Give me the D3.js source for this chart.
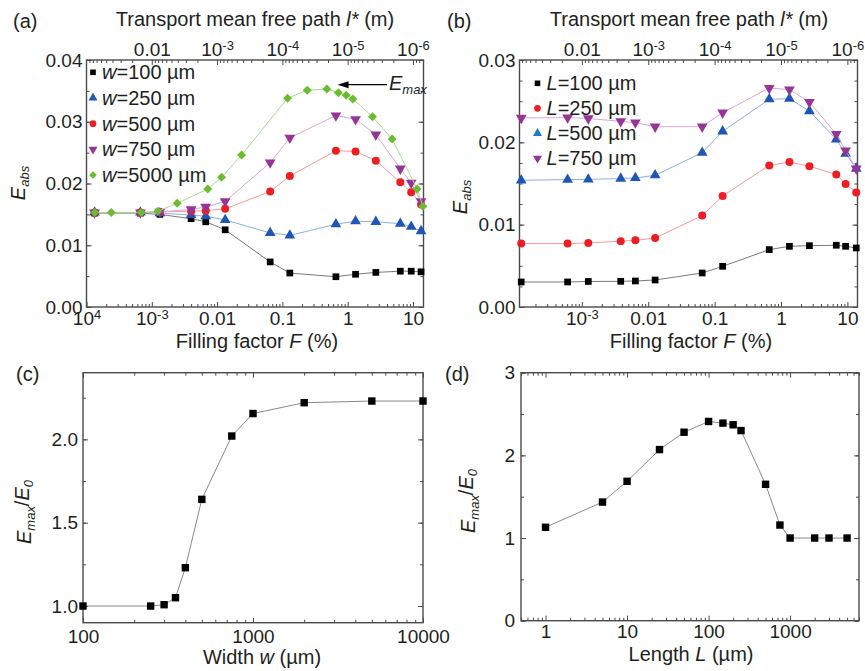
<!DOCTYPE html>
<html>
<head>
<meta charset="utf-8">
<script src="https://cdn.jsdelivr.net/npm/d3@7"></script>
<style>
body { margin: 0; background: #fff; }
text { font-family: "Liberation Sans", Arial, sans-serif; fill: #231f20; }
</style>
</head>
<body>
<div id="chart"></div>
<script>
// ---- panel (a): E_abs vs filling factor, different widths w
var aF = [1.33e-4, 6.7e-4, 1.33e-3, 4e-3, 6.7e-3, 0.0133, 0.065, 0.13, 0.66, 1.32, 2.7, 6.4, 9.4, 13.3];
var aW100 = [0.0152, 0.0152, 0.0150, 0.0143, 0.0138, 0.0125, 0.0073, 0.0055, 0.0049, 0.0053, 0.0056, 0.0058, 0.0058, 0.0057];
var aW250 = [0.0153, 0.0153, 0.0152, 0.0149, 0.0147, 0.0141, 0.0120, 0.0116, 0.0134, 0.0139, 0.0138, 0.0135, 0.0130, 0.0123];
var aW500 = [0.0153, 0.0153, 0.0154, 0.0155, 0.0156, 0.0159, 0.0187, 0.0212, 0.0253, 0.0252, 0.0237, 0.0202, 0.0186, 0.0166];
var aW750 = [0.0153, 0.0153, 0.0154, 0.0158, 0.0162, 0.0171, 0.0234, 0.0274, 0.0310, 0.0304, 0.0279, 0.0224, 0.0201, 0.0171];
var aF5000 = [1.34e-4, 2.4e-4, 6.9e-4, 1.24e-3, 2.45e-3, 7.2e-3, 0.0117, 0.0237, 0.12, 0.24, 0.48, 0.72, 0.95, 1.2, 2.4, 4.8, 11.6, 14.2];
var aW5000 = [0.0153, 0.0153, 0.0153, 0.0155, 0.0168, 0.0191, 0.0210, 0.0246, 0.0338, 0.0351, 0.0353, 0.0347, 0.0343, 0.0337, 0.0308, 0.0272, 0.0191, 0.0163];
var aLegend = ["=100 µm", "=250 µm", "=500 µm", "=750 µm", "=5000 µm"];

// ---- panel (b): E_abs vs filling factor, different lengths L
var bF = [1.22e-4, 6.1e-4, 1.25e-3, 3.85e-3, 6.4e-3, 0.0127, 0.065, 0.132, 0.665, 1.34, 2.68, 6.8, 9.4, 13.6];
var bL100 = [0.00304, 0.00304, 0.0031, 0.00312, 0.00316, 0.00328, 0.00413, 0.00494, 0.00697, 0.00737, 0.00745, 0.0075, 0.00737, 0.00717];
var bL250 = [0.0077, 0.0077, 0.00778, 0.0080, 0.0081, 0.00838, 0.0111, 0.01349, 0.0172, 0.0176, 0.0171, 0.0161, 0.01494, 0.0139];
var bL500 = [0.01539, 0.01547, 0.0155, 0.0156, 0.01567, 0.0160, 0.01875, 0.02134, 0.02523, 0.0253, 0.0238, 0.02037, 0.01863, 0.0168];
var bL750 = [0.02296, 0.0230, 0.0229, 0.02255, 0.0224, 0.0219, 0.0219, 0.0236, 0.0266, 0.0264, 0.0249, 0.0210, 0.0190, 0.0168];
var bLegend = ["=100 µm", "=250 µm", "=500 µm", "=750 µm"];

// ---- panel (c): Emax/E0 vs width
var cW = [100, 250, 300, 350, 400, 500, 750, 1000, 2000, 5000, 10000];
var cR = [1.0, 1.0, 1.008, 1.05, 1.23, 1.64, 2.02, 2.155, 2.22, 2.23, 2.23];

// ---- panel (d): Emax/E0 vs length
var dL = [1, 5, 10, 25, 50, 100, 150, 200, 250, 500, 750, 1000, 2000, 3000, 5000];
var dR = [1.13, 1.435, 1.686, 2.07, 2.28, 2.41, 2.39, 2.37, 2.30, 1.65, 1.157, 1.0, 1.0, 1.0, 1.0];

// tick values
var fMajors = [1e-4, 1e-3, 0.01, 0.1, 1, 10];
var lMajors = [0.01, 1e-3, 1e-4, 1e-5, 1e-6];

var width = 865, height = 671;
var svg = d3.select("#chart").append("svg")
    .attr("width", width)
    .attr("height", height);

var frameColor = "#4a4a4a";

function logMinors(lo, hi) {
    var a = Math.min(lo, hi), b = Math.max(lo, hi), out = [];
    for (var e = Math.floor(Math.log10(a)); e <= Math.ceil(Math.log10(b)); e++) {
        for (var m = 2; m < 10; m++) {
            var v = m * Math.pow(10, e);
            if (v >= a * 0.999 && v <= b * 1.001) out.push(v);
        }
    }
    return out;
}

function linTicks(lo, hi, step) {
    var out = [];
    for (var i = Math.round(lo / step); i * step <= hi + 1e-9; i++) out.push(+(i * step).toFixed(6));
    return out;
}

// labels with optional superscript: fmt returns string or [base, sup]
function writeLabels(axisG, fmt) {
    axisG.selectAll(".tick text").each(function(d) {
        var t = d3.select(this), f = fmt(d);
        if (typeof f === "string") { t.text(f); return; }
        t.text(f[0]);
        t.append("tspan").attr("dy", "-0.5em").attr("font-size", "13px").text(f[1]);
    });
}

function styleAxis(axisG) {
    axisG.select(".domain").remove();
    axisG.selectAll(".tick line").attr("stroke", frameColor).attr("stroke-width", 1);
    axisG.selectAll(".tick text").attr("font-size", "19px").attr("font-family", null).attr("fill", "#231f20");
}

function fLabel(d) {
    if (d < 9e-4) return ["10", "4"];
    if (d < 5e-3) return ["10", "-3"];
    return String(+d.toPrecision(1));
}

function lLabel(d) {
    if (d > 5e-3) return "0.01";
    return ["10", "-" + Math.round(-Math.log10(d))];
}

function panel(o) {
    var g = svg.append("g").attr("transform", "translate(" + o.left + "," + o.top + ")");
    var w = o.width, h = o.height;
    var x = d3.scaleLog().domain(o.xDomain).range([0, w]);
    var y = d3.scaleLinear().domain(o.yDomain).range([h, 0]);

    // bottom
    var bMaj = o.xMajors.filter(function(v) { return v >= o.xDomain[0] * 0.999 && v <= o.xDomain[1]; });
    var gb = g.append("g").attr("transform", "translate(0," + h + ")")
        .call(d3.axisBottom(x).tickValues(bMaj).tickSize(-5).tickPadding(o.xPad));
    styleAxis(gb);
    writeLabels(gb, o.xFormat);
    var gbm = g.append("g").attr("transform", "translate(0," + h + ")")
        .call(d3.axisBottom(x).tickValues(logMinors(o.xDomain[0], o.xDomain[1])).tickSize(-3).tickFormat(""));
    styleAxis(gbm);

    // top
    if (o.topAxis) {
        var lx = d3.scaleLog().domain([1e-5 / o.xDomain[0], 1e-5 / o.xDomain[1]]).range([0, w]);
        var gt = g.append("g")
            .call(d3.axisTop(lx).tickValues(lMajors).tickSize(-5).tickPadding(4));
        styleAxis(gt);
        writeLabels(gt, lLabel);
        var gtm = g.append("g")
            .call(d3.axisTop(lx).tickValues(logMinors(1e-5 / o.xDomain[0], 1e-5 / o.xDomain[1])).tickSize(-3).tickFormat(""));
        styleAxis(gtm);
    } else {
        styleAxis(g.append("g").call(d3.axisTop(x).tickValues(bMaj).tickSize(-5).tickFormat("")));
        styleAxis(g.append("g").call(d3.axisTop(x).tickValues(logMinors(o.xDomain[0], o.xDomain[1])).tickSize(-3).tickFormat("")));
    }

    // left + right
    var gl = g.append("g")
        .call(d3.axisLeft(y).tickValues(o.yMajors).tickSize(-5).tickPadding(o.yPad).tickFormat(d3.format(o.yFormat)));
    styleAxis(gl);
    styleAxis(g.append("g").call(d3.axisLeft(y).tickValues(o.yMinors).tickSize(-3).tickFormat("")));
    styleAxis(g.append("g").attr("transform", "translate(" + w + ",0)")
        .call(d3.axisRight(y).tickValues(o.yMajors).tickSize(-5).tickFormat("")));
    styleAxis(g.append("g").attr("transform", "translate(" + w + ",0)")
        .call(d3.axisRight(y).tickValues(o.yMinors).tickSize(-3).tickFormat("")));

    g.append("rect")
        .attr("width", w).attr("height", h)
        .attr("fill", "none")
        .attr("stroke", frameColor)
        .attr("stroke-width", 1.4);

    return { g: g, x: x, y: y, w: w, h: h };
}

function series(p, xs, ys, color, lineColor, sym, size, rot) {
    var pts = xs.map(function(d, i) { return [d, ys[i]]; });
    p.g.append("path")
        .datum(pts)
        .attr("fill", "none")
        .attr("stroke", lineColor)
        .attr("stroke-width", 1)
        .attr("d", d3.line().x(function(d) { return p.x(d[0]); }).y(function(d) { return p.y(d[1]); }));
    p.g.selectAll(null)
        .data(pts)
        .enter()
        .append("path")
        .attr("transform", function(d) {
            return "translate(" + p.x(d[0]) + "," + p.y(d[1]) + ") rotate(" + (rot || 0) + ")";
        })
        .attr("d", d3.symbol().type(sym).size(size))
        .attr("fill", color);
}

function legend(p, x0, y0, dy, items, letter) {
    items.forEach(function(it, i) {
        var cy = y0 + i * dy;
        p.g.append("path")
            .attr("transform", "translate(" + x0 + "," + cy + ") rotate(" + (it.rot || 0) + ")")
            .attr("d", d3.symbol().type(it.sym).size(it.size * 0.7))
            .attr("fill", it.color);
        var t = p.g.append("text").attr("x", x0 + 9).attr("y", cy + 7).attr("font-size", "20px");
        t.append("tspan").attr("font-style", "italic").text(letter);
        t.append("tspan").text(it.label);
    });
}

function textWithSub(parent, parts, attrs) {
    var t = parent.append("text");
    Object.keys(attrs).forEach(function(k) { t.attr(k, attrs[k]); });
    parts.forEach(function(pt) {
        var s = t.append("tspan").text(pt.t);
        if (pt.i) s.attr("font-style", "italic");
        if (pt.sub) s.attr("font-size", "13px").attr("dy", "0.3em");
        if (pt.back) s.attr("dy", "-0.3em");
    });
    return t;
}

var cols = {
    black: ["#000000", "#7a7a7a"],
    blue: ["#1f55b5", "#8db0e3"],
    red: ["#ee1d23", "#f59a9a"],
    purple: ["#963596", "#d9a8d9"],
    green: ["#6abd2e", "#a9da8e"]
};

// ================= (a)
var pa = panel({
    left: 86.5, top: 60, width: 337, height: 247,
    xDomain: [1e-4, 14.5], yDomain: [0, 0.04],
    xMajors: fMajors, xFormat: fLabel, xPad: 5, topAxis: true,
    yMajors: linTicks(0, 0.04, 0.01), yMinors: linTicks(0, 0.04, 0.005), yFormat: ".2f", yPad: 4
});
series(pa, aF, aW100, cols.black[0], cols.black[1], d3.symbolSquare, 45, 0);
series(pa, aF, aW250, cols.blue[0], cols.blue[1], d3.symbolTriangle, 50, 0);
series(pa, aF, aW500, cols.red[0], cols.red[1], d3.symbolCircle, 50, 0);
series(pa, aF, aW750, cols.purple[0], cols.purple[1], d3.symbolTriangle, 50, 180);
series(pa, aF5000, aW5000, cols.green[0], cols.green[1], d3.symbolSquare, 40, 45);
legend(pa, 6.5, 12.3, 25.7, [
    { sym: d3.symbolSquare, size: 45, color: cols.black[0], label: aLegend[0] },
    { sym: d3.symbolTriangle, size: 50, color: cols.blue[0], label: aLegend[1] },
    { sym: d3.symbolCircle, size: 50, color: cols.red[0], label: aLegend[2] },
    { sym: d3.symbolTriangle, size: 50, color: cols.purple[0], label: aLegend[3], rot: 180 },
    { sym: d3.symbolSquare, size: 40, color: cols.green[0], label: aLegend[4], rot: 45 }
], "w");

// Emax annotation
var tipX = pa.x(0.7), tipY = pa.y(0.0360), tailX = pa.x(4);
pa.g.append("line")
    .attr("x1", tailX).attr("y1", tipY).attr("x2", tipX + 8).attr("y2", tipY)
    .attr("stroke", "#000").attr("stroke-width", 1.3);
pa.g.append("path")
    .attr("d", "M" + tipX + "," + tipY + "L" + (tipX + 11) + "," + (tipY - 3.5) + "L" + (tipX + 11) + "," + (tipY + 3.5) + "Z")
    .attr("fill", "#000");
textWithSub(pa.g, [{ t: "E", i: true }, { t: "max", i: true, sub: true }],
    { x: tailX + 2, y: tipY + 5, "font-size": "20px" });

// ================= (b)
var pb = panel({
    left: 519.5, top: 60, width: 338, height: 247,
    xDomain: [1.15e-4, 14.2], yDomain: [0, 0.03],
    xMajors: fMajors, xFormat: fLabel, xPad: 5, topAxis: true,
    yMajors: linTicks(0, 0.03, 0.01), yMinors: linTicks(0, 0.03, 0.0025), yFormat: ".2f", yPad: 4
});
series(pb, bF, bL100, cols.black[0], cols.black[1], d3.symbolSquare, 45, 0);
series(pb, bF, bL250, cols.red[0], cols.red[1], d3.symbolCircle, 50, 0);
series(pb, bF, bL500, cols.blue[0], cols.blue[1], d3.symbolTriangle, 50, 0);
series(pb, bF, bL750, cols.purple[0], cols.purple[1], d3.symbolTriangle, 50, 180);
legend(pb, 18, 23.3, 25, [
    { sym: d3.symbolSquare, size: 45, color: cols.black[0], label: bLegend[0] },
    { sym: d3.symbolCircle, size: 50, color: cols.red[0], label: bLegend[1] },
    { sym: d3.symbolTriangle, size: 50, color: "#1e78c8", label: bLegend[2] },
    { sym: d3.symbolTriangle, size: 50, color: cols.purple[0], label: bLegend[3], rot: 180 }
], "L");

// ================= (c)
var pc = panel({
    left: 83, top: 372.7, width: 340, height: 250,
    xDomain: [100, 10000], yDomain: [0.9, 2.4],
    xMajors: [100, 1000, 10000], xFormat: function(d) { return String(d); }, xPad: 7, topAxis: false,
    yMajors: [1.0, 1.5, 2.0], yMinors: linTicks(1.0, 2.4, 0.25), yFormat: ".1f", yPad: 5
});
series(pc, cW, cR, "#000", "#8a8a8a", d3.symbolSquare, 55, 0);

// ================= (d)
var pd = panel({
    left: 521, top: 372.7, width: 338, height: 248,
    xDomain: [0.5, 7000], yDomain: [0, 3],
    xMajors: [1, 10, 100, 1000], xFormat: function(d) { return String(d); }, xPad: 4, topAxis: false,
    yMajors: [0, 1, 2, 3], yMinors: linTicks(0, 3, 0.5), yFormat: "d", yPad: 6
});
series(pd, dL, dR, "#000", "#8a8a8a", d3.symbolSquare, 55, 0);

// ================= titles
[["(a)", 13, 28], ["(b)", 447, 28], ["(c)", 16, 381], ["(d)", 445, 381]].forEach(function(l) {
    svg.append("text").attr("x", l[1]).attr("y", l[2]).attr("font-size", "20px").text(l[0]);
});

[255, 689].forEach(function(cx) {
    textWithSub(svg, [{ t: "Transport mean free path " }, { t: "l*", i: true }, { t: " (m)" }],
        { x: cx, y: 26, "text-anchor": "middle", "font-size": "20px" });
    textWithSub(svg, [{ t: "Filling factor " }, { t: "F", i: true }, { t: " (%)" }],
        { x: cx + 2, y: 348, "text-anchor": "middle", "font-size": "20px" });
});

textWithSub(svg, [{ t: "Width " }, { t: "w", i: true }, { t: " (µm)" }],
    { x: 262, y: 664, "text-anchor": "middle", "font-size": "20px" });
textWithSub(svg, [{ t: "Length " }, { t: "L", i: true }, { t: " (µm)" }],
    { x: 691, y: 661, "text-anchor": "middle", "font-size": "20px" });

textWithSub(svg, [{ t: "E", i: true }, { t: "abs", i: true, sub: true }],
    { transform: "translate(25,183) rotate(-90)", "text-anchor": "middle", "font-size": "20px" });
textWithSub(svg, [{ t: "E", i: true }, { t: "abs", i: true, sub: true }],
    { transform: "translate(467,197) rotate(-90)", "text-anchor": "middle", "font-size": "20px" });
textWithSub(svg, [{ t: "E", i: true }, { t: "max", i: true, sub: true }, { t: "/", back: true }, { t: "E", i: true }, { t: "0", i: true, sub: true }],
    { transform: "translate(31,512) rotate(-90)", "text-anchor": "middle", "font-size": "20px" });
textWithSub(svg, [{ t: "E", i: true }, { t: "max", i: true, sub: true }, { t: "/", back: true }, { t: "E", i: true }, { t: "0", i: true, sub: true }],
    { transform: "translate(475,501) rotate(-90)", "text-anchor": "middle", "font-size": "20px" });
</script>
</body>
</html>
